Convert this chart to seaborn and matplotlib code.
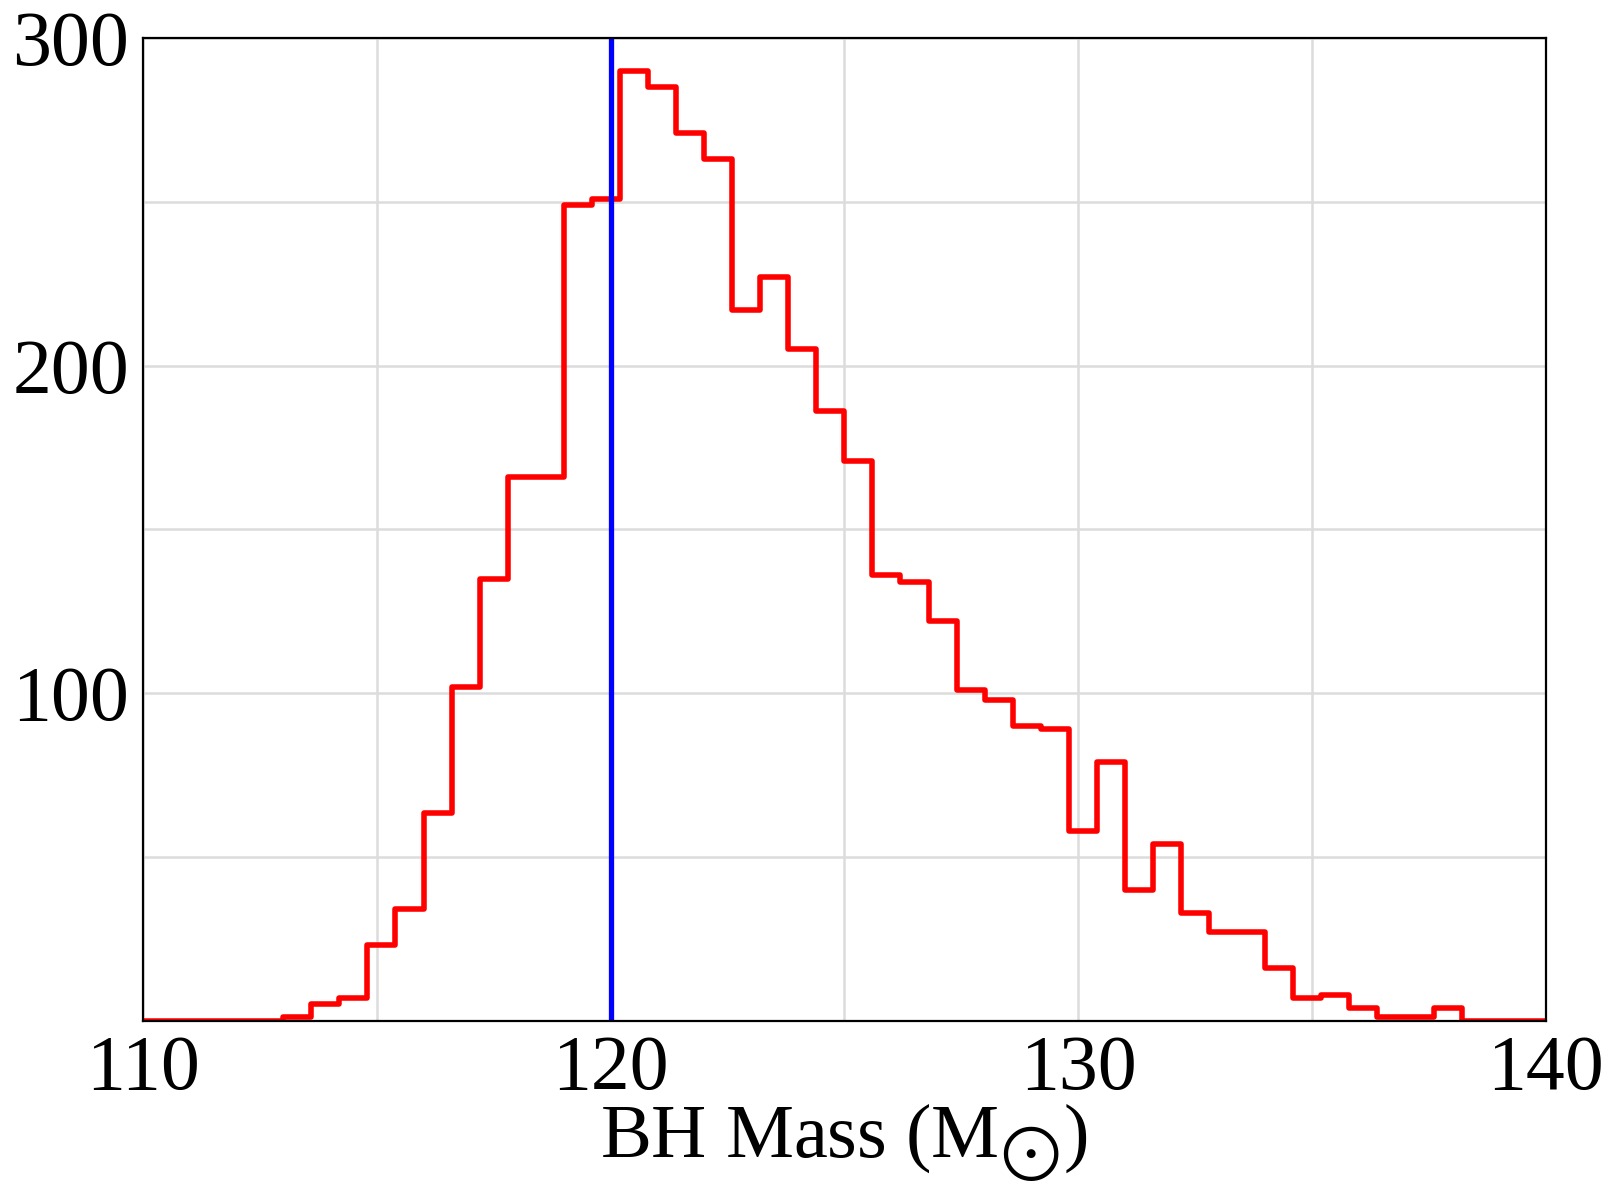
import numpy as np
import pandas as pd
import seaborn as sns
import matplotlib
matplotlib.use("Agg")
import matplotlib.pyplot as plt

# ---- data ----
bin_start = 110.0
bin_end = 140.0
bin_width = 0.6
counts = [0, 0, 0, 0, 0, 1, 5, 7, 23, 34,
          63.5, 102, 135, 166, 166, 249, 251, 290, 285, 271,
          263, 217, 227, 205, 186, 171, 136, 134, 122, 101,
          98, 90, 89, 58, 79, 40, 54, 33, 27, 27,
          16, 7, 8, 4, 1, 1, 4, 0, 0, 0]
marker_x = 120.0
x_ticks = [110, 115, 120, 125, 130, 135, 140]
x_labels = ["110", "", "120", "", "130", "", "140"]
y_ticks = [0, 50, 100, 150, 200, 250, 300]
y_labels = ["", "", "100", "", "200", "", "300"]
xlabel = "BH Mass (M$_{\\bigodot}$)"

edges = bin_start + bin_width * np.arange(len(counts) + 1)
centers = (edges[:-1] + edges[1:]) / 2
df = pd.DataFrame({"mass": centers, "count": counts})

sns.set_style("white")
plt.rcParams["font.family"] = ["Liberation Serif", "DejaVu Serif"]
plt.rcParams["mathtext.fontset"] = "stix"
plt.rcParams["text.color"] = "black"
plt.rcParams["axes.labelcolor"] = "black"
plt.rcParams["xtick.color"] = "black"
plt.rcParams["ytick.color"] = "black"

fig = plt.figure(figsize=(16.21, 11.88), dpi=100)
ax = fig.add_axes([0.0882, 0.1408, 0.9536 - 0.0882, 0.968 - 0.1408])

ax.grid(True, color="#dcdcdc", linewidth=1.8, zorder=0)
ax.set_axisbelow(True)

sns.histplot(data=df, x="mass", weights="count", binwidth=bin_width,
             binrange=(bin_start, bin_end), element="step",
             fill=False, color="red", linewidth=4.0, ax=ax, zorder=3)
ax.axvline(marker_x, color="blue", linewidth=3.8, zorder=4)

ax.set_xlim(110, 140)
ax.set_ylim(0, 300)
ax.set_xticks(x_ticks)
ax.set_xticklabels(x_labels)
ax.set_yticks(y_ticks)
ax.set_yticklabels(y_labels)
ax.tick_params(axis="both", length=0, labelsize=56, pad=10,
               colors="black", labelcolor="black")
ax.set_xlabel(xlabel, fontsize=55, labelpad=-3, color="black")
ax.set_ylabel("")

for s in ax.spines.values():
    s.set_color("black")
    s.set_linewidth(1.6)
    s.set_visible(True)
    s.set_zorder(5)

fig.savefig("out.png", dpi=100, facecolor="white")
